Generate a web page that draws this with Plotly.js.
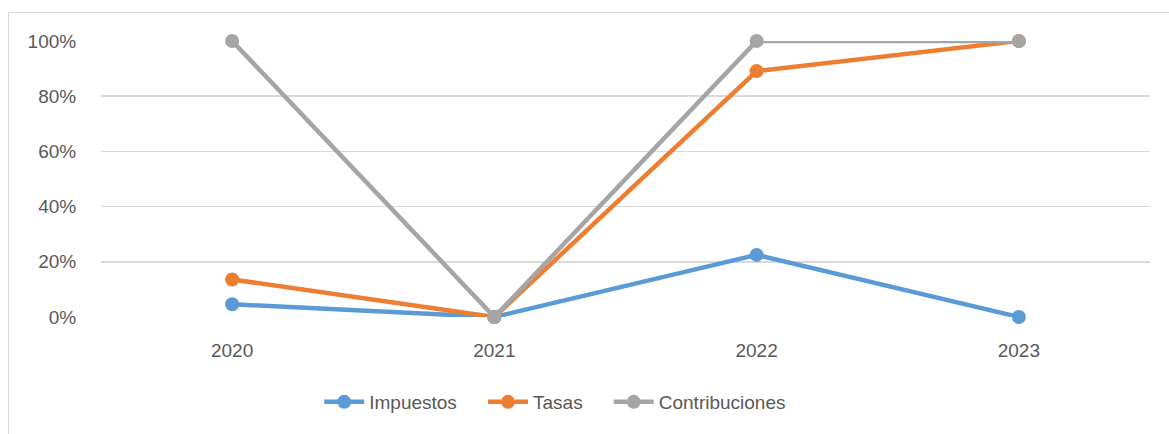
<!DOCTYPE html>
<html>
<head>
<meta charset="utf-8">
<script src="https://cdn.plot.ly/plotly-3.0.1.min.js"></script>
<style>
html,body{margin:0;padding:0;background:#fff;}
#frame{position:absolute;left:8px;top:12px;width:1200px;height:500px;border-left:1.5px solid #d9d9d9;border-top:1.5px solid #d9d9d9;box-sizing:border-box;}
#chart{position:absolute;left:0;top:0;width:1169px;height:434px;}
</style>
</head>
<body>
<div id="frame"></div>
<div id="chart"></div>
<script>
const categories = ["2020", "2021", "2022", "2023"];
const impuestos = [0.046, 0.0, 0.225, 0.0];
const tasas = [0.136, 0.0, 0.891, 1.0];
const contribuciones = [1.0, 0.0, 1.0, 1.0];
const seriesNames = ["Impuestos", "Tasas", "Contribuciones"];
const colors = ["#5B9BD5", "#ED7D31", "#A5A5A5"];
const tickVals = [0, 0.2, 0.4, 0.6, 0.8, 1.0];
const tickText = ["0%", "20%", "40%", "60%", "80%", "100%"];

const pad = "\u00a0\u00a0\u00a0\u00a0";
const data = [impuestos, tasas, contribuciones].map((vals, i) => ({
  type: "scatter",
  mode: "lines+markers",
  name: seriesNames[i] + (i < 2 ? pad : ""),
  x: categories,
  y: vals,
  line: {color: colors[i], width: 4.5},
  marker: {color: colors[i], size: 14},
  cliponaxis: false
}));

const layout = {
  width: 1169, height: 434,
  paper_bgcolor: "rgba(0,0,0,0)",
  plot_bgcolor: "rgba(0,0,0,0)",
  margin: {l: 101, r: 19, t: 41, b: 117},
  font: {family: "Liberation Sans, Arial, sans-serif", size: 19, color: "#595959"},
  showlegend: true,
  legend: {orientation: "h", x: 0.433, xanchor: "center", y: -0.308, yanchor: "middle",
           font: {size: 19, color: "#595959"}, itemwidth: 40, tracegroupgap: 0},
  xaxis: {type: "category", range: [-0.5, 3.5], showgrid: false, zeroline: false,
          showline: false, ticks: "outside", ticklen: 16, tickcolor: "rgba(0,0,0,0)",
          tickfont: {size: 19}, fixedrange: true},
  yaxis: {range: [0, 1], tickvals: tickVals, ticktext: tickText, showgrid: true,
          gridcolor: "#d9d9d9", gridwidth: 1.5, zeroline: false, showline: false,
          ticks: "outside", ticklen: 20, tickcolor: "rgba(0,0,0,0)", tickfont: {size: 19}}
};

Plotly.newPlot("chart", data, layout, {displayModeBar: false, staticPlot: true});
</script>
</body>
</html>
